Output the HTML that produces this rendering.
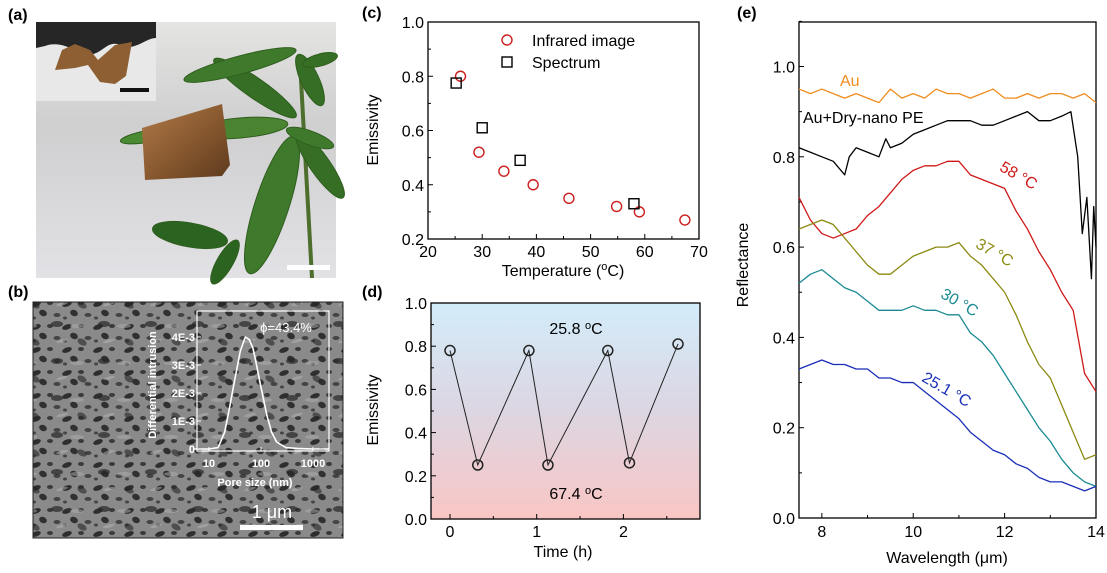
<!DOCTYPE html>
<html><head><meta charset="utf-8"><style>
html,body{margin:0;padding:0;background:#fff;}
svg{display:block;font-family:"Liberation Sans",Arial,sans-serif;}
</style></head><body>
<svg id="fig" width="1107" height="573" viewBox="0 0 1107 573" xmlns="http://www.w3.org/2000/svg">
<defs>
<linearGradient id="bgA" x1="0" y1="0" x2="0" y2="1"><stop offset="0" stop-color="#e4e4e2"/><stop offset="0.4" stop-color="#cfcfd0"/><stop offset="1" stop-color="#e2e2e6"/></linearGradient>
<linearGradient id="gD" x1="0" y1="0" x2="0" y2="1"><stop offset="0" stop-color="#d3ecfa"/><stop offset="0.5" stop-color="#dcd6e2"/><stop offset="1" stop-color="#f9c6c4"/></linearGradient>
<linearGradient id="brown" x1="0" y1="0" x2="1" y2="1"><stop offset="0" stop-color="#b07a48"/><stop offset="0.5" stop-color="#8a5a30"/><stop offset="1" stop-color="#5c3a1e"/></linearGradient>
<pattern id="sem" width="31" height="23" patternUnits="userSpaceOnUse">
<rect width="31" height="23" fill="#8a8a8a"/>
<ellipse cx="5" cy="5" rx="5" ry="2.5" fill="#2e2e2e" transform="rotate(-20 5 5)"/>
<ellipse cx="19" cy="4" rx="3" ry="2" fill="#3a3a3a"/>
<ellipse cx="12" cy="14" rx="4" ry="3" fill="#303030" transform="rotate(25 12 14)"/>
<ellipse cx="26" cy="16" rx="3.5" ry="2" fill="#444"/>
<ellipse cx="3" cy="19" rx="2" ry="1.5" fill="#444"/>
</pattern>
<pattern id="sem2" width="47" height="37" patternUnits="userSpaceOnUse">
<ellipse cx="10" cy="28" rx="6" ry="3" fill="#262626" opacity="0.7"/>
<ellipse cx="35" cy="9" rx="5" ry="3" fill="#262626" opacity="0.6" transform="rotate(30 35 9)"/>
<ellipse cx="30" cy="30" rx="7" ry="2" fill="#b0b0b0" opacity="0.5"/>
<ellipse cx="15" cy="8" rx="6" ry="1.5" fill="#b5b5b5" opacity="0.5" transform="rotate(-15 15 8)"/>
</pattern>
</defs>

<!-- panel a photo -->
<g>
<text x="8" y="20" font-size="16" font-weight="bold">(a)</text>
<rect x="36" y="22" width="300" height="256" fill="url(#bgA)"/>
<g stroke="#2f5e1e" stroke-width="1">
<path d="M300,62 L312,278" stroke="#4d6e2c" stroke-width="4" fill="none"/>
<ellipse cx="272" cy="205" rx="72" ry="17" transform="rotate(-72 272 205)" fill="#3f7a2c"/>
<ellipse cx="240" cy="128" rx="48" ry="10" transform="rotate(-5 240 128)" fill="#4a8430"/>
<ellipse cx="255" cy="88" rx="50" ry="10" transform="rotate(35 255 88)" fill="#356e24"/>
<ellipse cx="240" cy="65" rx="58" ry="9" transform="rotate(-15 240 65)" fill="#3f7a2c"/>
<ellipse cx="310" cy="80" rx="28" ry="9" transform="rotate(65 310 80)" fill="#356e24"/>
<ellipse cx="320" cy="165" rx="40" ry="10" transform="rotate(55 320 165)" fill="#356e24"/>
<ellipse cx="310" cy="138" rx="25" ry="7" transform="rotate(20 310 138)" fill="#3f7a2c"/>
<ellipse cx="190" cy="235" rx="38" ry="12" transform="rotate(10 190 235)" fill="#2a6420"/>
<ellipse cx="225" cy="262" rx="25" ry="8" transform="rotate(-60 225 262)" fill="#2a6420"/>
<ellipse cx="320" cy="60" rx="18" ry="6" transform="rotate(-15 320 60)" fill="#356e24"/>
<ellipse cx="150" cy="136" rx="30" ry="6" transform="rotate(-10 150 136)" fill="#4a8a32"/>
</g>
<polygon points="142,128 222,104 230,165 222,176 145,180" fill="url(#brown)"/>
<rect x="36" y="22" width="120" height="79" fill="#e8e8e8"/>
<path d="M36,22 H156 V38 C145,38 135,52 120,45 C105,38 100,62 80,52 C65,45 55,42 45,46 L36,48 Z" fill="#262626"/>
<polygon points="62,50 75,44 90,50 98,60 115,45 132,42 126,76 115,84 100,82 88,65 75,68 55,70" fill="#8e5f33"/>
<rect x="120" y="88" width="29" height="4" fill="#111"/>
<rect x="287" y="265" width="43" height="5" fill="#fff"/>
</g>

<!-- panel b SEM -->
<g>
<text x="8" y="297" font-size="16" font-weight="bold">(b)</text>
<rect x="33" y="302" width="310" height="236" fill="url(#sem)"/>
<rect x="33" y="302" width="310" height="236" fill="url(#sem2)"/>
<rect x="33" y="302" width="310" height="236" fill="none" stroke="#222" stroke-width="1"/>
<g>
<rect x="197" y="311" width="132" height="140" fill="none" stroke="#fff" stroke-width="1.2"/>
<g id="insetB"></g>
<text x="286" y="332" fill="#fff" font-size="13" text-anchor="middle">ϕ=43.4%</text>
<text x="255" y="486" fill="#fff" font-size="11" font-weight="bold" text-anchor="middle">Pore size (nm)</text>
<text transform="translate(156,385) rotate(-90)" fill="#fff" font-size="11" font-weight="bold" text-anchor="middle">Differential intrusion</text>
</g>
<text x="272" y="518" fill="#fff" font-size="18" text-anchor="middle">1 μm</text>
<rect x="240" y="525" width="63" height="5" fill="#fff"/>
</g>

<!-- panel c -->
<g id="pc">
<text x="362" y="18" font-size="16" font-weight="bold">(c)</text>
<rect x="428" y="22" width="271" height="217" fill="none" stroke="#000" stroke-width="1.3"/>
<text transform="translate(378,130) rotate(-90)" font-size="16" text-anchor="middle">Emissivity</text>
<text x="563" y="276" font-size="16" text-anchor="middle">Temperature (<tspan font-size="11" dy="-6">o</tspan><tspan dy="6">C)</tspan></text>
<circle cx="507" cy="40" r="5" fill="none" stroke="#cc1f1f" stroke-width="1.4"/>
<text x="532" y="46" font-size="16">Infrared image</text>
<rect x="502" y="57" width="10" height="10" fill="none" stroke="#000" stroke-width="1.4"/>
<text x="532" y="68" font-size="16">Spectrum</text>
</g>

<!-- panel d -->
<g id="pd">
<text x="362" y="297" font-size="16" font-weight="bold">(d)</text>
<rect x="431" y="303" width="269" height="216" fill="url(#gD)" stroke="#000" stroke-width="1.3"/>
<text transform="translate(378,410) rotate(-90)" font-size="16" text-anchor="middle">Emissivity</text>
<text x="563" y="557" font-size="16" text-anchor="middle">Time (h)</text>
<text x="576" y="334" font-size="16" text-anchor="middle">25.8 <tspan font-size="11" dy="-5">o</tspan><tspan dy="5">C</tspan></text>
<text x="576" y="499" font-size="16" text-anchor="middle">67.4 <tspan font-size="11" dy="-5">o</tspan><tspan dy="5">C</tspan></text>
</g>

<!-- panel e -->
<g id="pe">
<text x="737" y="18" font-size="16" font-weight="bold">(e)</text>
<rect x="799" y="22" width="297" height="496" fill="none" stroke="#000" stroke-width="1.3"/>
<text transform="translate(748,265) rotate(-90)" font-size="16" text-anchor="middle">Reflectance</text>
<text x="947" y="563" font-size="16" text-anchor="middle">Wavelength (μm)</text>
<text x="840" y="86" font-size="16" fill="#f08c1e">Au</text>
<text x="803" y="123" font-size="16" fill="#000">Au+Dry-nano PE</text>
<text transform="translate(1016,180) rotate(30)" font-size="16" fill="#d01818" text-anchor="middle">58 °C</text>
<text transform="translate(992,257) rotate(30)" font-size="16" fill="#8a8a12" text-anchor="middle">37 °C</text>
<text transform="translate(957,307) rotate(30)" font-size="16" fill="#1a8a92" text-anchor="middle">30 °C</text>
<text transform="translate(944,394) rotate(30)" font-size="16" fill="#1a2fb8" text-anchor="middle">25.1 °C</text>
</g>
</svg>
<script>
// ---- panel c data ----
const cIrTemp = [26, 29.4, 34, 39.4, 46, 54.8, 59, 67.4];
const cIrEmis = [0.80, 0.52, 0.45, 0.40, 0.35, 0.32, 0.30, 0.27];
const cSpTemp = [25.2, 30, 37, 58];
const cSpEmis = [0.775, 0.61, 0.49, 0.33];
const cXTicks = [20, 30, 40, 50, 60, 70];
const cYTicks = [0.2, 0.4, 0.6, 0.8, 1.0];
// ---- panel d data ----
const dTime = [0, 0.32, 0.91, 1.13, 1.82, 2.07, 2.63];
const dEmis = [0.78, 0.25, 0.78, 0.25, 0.78, 0.26, 0.81];
const dXTicks = [0, 1, 2];
const dYTicks = [0.0, 0.2, 0.4, 0.6, 0.8, 1.0];
// ---- panel e data ----
const eWave = [7.5,7.75,8,8.25,8.5,8.75,9,9.25,9.5,9.75,10,10.25,10.5,10.75,11,11.25,11.5,11.75,12,12.25,12.5,12.75,13,13.25,13.5,13.75,14];
const eAu =   [0.95,0.94,0.95,0.94,0.93,0.94,0.93,0.92,0.95,0.93,0.94,0.93,0.95,0.94,0.94,0.93,0.94,0.95,0.93,0.93,0.94,0.93,0.94,0.94,0.93,0.94,0.92];
const eDryWave = [7.5,7.75,8,8.25,8.5,8.6,8.75,9,9.25,9.4,9.5,9.75,10,10.25,10.5,10.75,11,11.25,11.5,11.75,12,12.25,12.5,12.75,13,13.25,13.45,13.6,13.7,13.8,13.9,13.95,14];
const eDry = [0.82,0.81,0.80,0.79,0.76,0.80,0.82,0.81,0.80,0.84,0.82,0.83,0.85,0.86,0.87,0.88,0.88,0.88,0.87,0.87,0.88,0.89,0.90,0.88,0.88,0.89,0.90,0.80,0.63,0.71,0.53,0.69,0.60];
const e58 = [0.71,0.66,0.63,0.62,0.63,0.64,0.67,0.69,0.72,0.75,0.77,0.78,0.78,0.79,0.79,0.76,0.75,0.74,0.73,0.68,0.64,0.59,0.55,0.50,0.46,0.32,0.28];
const e37 = [0.64,0.65,0.66,0.65,0.62,0.59,0.56,0.54,0.54,0.56,0.58,0.59,0.60,0.60,0.61,0.58,0.56,0.53,0.50,0.45,0.39,0.34,0.31,0.25,0.19,0.13,0.14];
const e30 = [0.52,0.54,0.55,0.53,0.51,0.50,0.48,0.46,0.46,0.46,0.47,0.46,0.46,0.45,0.45,0.41,0.39,0.36,0.32,0.28,0.24,0.20,0.17,0.13,0.10,0.08,0.07];
const e25 = [0.33,0.34,0.35,0.34,0.34,0.33,0.33,0.31,0.31,0.30,0.30,0.28,0.26,0.24,0.22,0.19,0.17,0.15,0.14,0.12,0.11,0.09,0.08,0.08,0.07,0.06,0.07];
const eXTicks = [8, 10, 12, 14];
const eYTicks = [0.0, 0.2, 0.4, 0.6, 0.8, 1.0];
// ---- panel b inset data ----
const bPore = [5,10,15,20,25,30,40,50,60,70,80,100,130,160,200,300,500,1000,2000];
const bIntr = [0,0,0.05,0.6,1.5,2.3,3.5,4.0,3.9,3.6,3.1,2.2,1.2,0.6,0.25,0.05,0.02,0,0];
const bYTicks = ['0','1E-3','2E-3','3E-3','4E-3'];
const bXTicks = [10, 100, 1000];

const NS = 'http://www.w3.org/2000/svg';
function mk(parent, tag, attrs) {
  const el = document.createElementNS(NS, tag);
  for (const k in attrs) el.setAttribute(k, attrs[k]);
  parent.appendChild(el);
  return el;
}
function lin(d0, d1, r0, r1) { return v => r0 + (v - d0) * (r1 - r0) / (d1 - d0); }

// panel c
const pc = document.getElementById('pc');
const cx = lin(20, 70, 428, 699), cy = lin(0.2, 1.0, 239, 22);
cXTicks.forEach(t => {
  const l = mk(pc, 'line', {x1: cx(t), x2: cx(t), y1: 239, y2: 234, stroke: '#000'});
  
  
  if (t < 70) mk(pc, 'line', {x1: cx(t + 5), x2: cx(t + 5), y1: 239, y2: 236, stroke: '#000'});
  const tx = mk(pc, 'text', {x: cx(t), y: 257, 'font-size': 16, 'text-anchor': 'middle'});
  tx.textContent = t;
  
  
});
cYTicks.forEach(t => {
  mk(pc, 'line', {x1: 428, x2: 433, y1: cy(t), y2: cy(t), stroke: '#000'});
  if (t < 1.0) mk(pc, 'line', {x1: 428, x2: 431, y1: cy(t + 0.1), y2: cy(t + 0.1), stroke: '#000'});
  const tx = mk(pc, 'text', {x: 424, y: cy(t) + 6, 'font-size': 16, 'text-anchor': 'end'});
  tx.textContent = t.toFixed(1);
  
  
});
cIrTemp.forEach((t, i) => {
  const c = mk(pc, 'circle', {cx: cx(t), cy: cy(cIrEmis[i]), r: 5, fill: 'none', stroke: '#cc1f1f', 'stroke-width': 1.4});
  
  
});
cSpTemp.forEach((t, i) => {
  const r = mk(pc, 'rect', {x: cx(t) - 5, y: cy(cSpEmis[i]) - 5, width: 10, height: 10, fill: 'none', stroke: '#000', 'stroke-width': 1.4});
  
  
});

// panel d
const pd = document.getElementById('pd');
const dx = lin(0, 1, 450, 536.7), dy = lin(0, 1, 519, 303);
dXTicks.forEach(t => {
  mk(pd, 'line', {x1: dx(t), x2: dx(t), y1: 519, y2: 514, stroke: '#000'});
  mk(pd, 'line', {x1: dx(t + 0.5), x2: dx(t + 0.5), y1: 519, y2: 516, stroke: '#000'});
  const tx = mk(pd, 'text', {x: dx(t), y: 537, 'font-size': 16, 'text-anchor': 'middle'});
  tx.textContent = t;
  
  
});
dYTicks.forEach(t => {
  mk(pd, 'line', {x1: 431, x2: 436, y1: dy(t), y2: dy(t), stroke: '#000'});
  if (t < 1.0) mk(pd, 'line', {x1: 431, x2: 434, y1: dy(t + 0.1), y2: dy(t + 0.1), stroke: '#000'});
  const tx = mk(pd, 'text', {x: 427, y: dy(t) + 6, 'font-size': 16, 'text-anchor': 'end'});
  tx.textContent = t.toFixed(1);
  
  
});
const dl = mk(pd, 'polyline', {points: dTime.map((t, i) => dx(t) + ',' + dy(dEmis[i])).join(' '), fill: 'none', stroke: '#222', 'stroke-width': 1});


dTime.forEach((t, i) => {
  const c = mk(pd, 'circle', {cx: dx(t), cy: dy(dEmis[i]), r: 5, fill: 'none', stroke: '#222', 'stroke-width': 1.5});
  
  
});

// panel e
const pe = document.getElementById('pe');
const ex = lin(7.5, 14, 799, 1096), ey = lin(0, 1, 518, 66.5);
eXTicks.forEach(t => {
  mk(pe, 'line', {x1: ex(t), x2: ex(t), y1: 518, y2: 513, stroke: '#000'});
  if (t < 14) mk(pe, 'line', {x1: ex(t + 1), x2: ex(t + 1), y1: 518, y2: 515, stroke: '#000'});
  const tx = mk(pe, 'text', {x: ex(t), y: 537, 'font-size': 16, 'text-anchor': 'middle'});
  tx.textContent = t;
  
  
});
eYTicks.forEach(t => {
  mk(pe, 'line', {x1: 799, x2: 804, y1: ey(t), y2: ey(t), stroke: '#000'});
  mk(pe, 'line', {x1: 799, x2: 802, y1: ey(t + 0.1), y2: ey(t + 0.1), stroke: '#000'});
  const tx = mk(pe, 'text', {x: 795, y: ey(t) + 6, 'font-size': 16, 'text-anchor': 'end'});
  tx.textContent = t.toFixed(1);
  
  
});
const eSeries = [
  ['au-curve', eWave, eAu, '#f08c1e'],
  ['au-dry-nano-pe-curve', eDryWave, eDry, '#000'],
  ['curve-58C', eWave, e58, '#d01818'],
  ['curve-37C', eWave, e37, '#8a8a12'],
  ['curve-30C', eWave, e30, '#1a8a92'],
  ['curve-25-1C', eWave, e25, '#1a2fb8']
];
eSeries.forEach(s => {
  const p = mk(pe, 'polyline', {points: s[1].map((w, i) => ex(w) + ',' + ey(s[2][i])).join(' '), fill: 'none', stroke: s[3], 'stroke-width': 1.3, 'stroke-linejoin': 'round'});
  
  
});

// panel b inset
const ib = document.getElementById('insetB');
const bx = v => 209 + (Math.log10(v) - 1) * 52, by = lin(0, 4, 449, 337);
bYTicks.forEach((t, i) => {
  mk(ib, 'line', {x1: 197, x2: 201, y1: by(i), y2: by(i), stroke: '#fff'});
  const tx = mk(ib, 'text', {x: 195, y: by(i) + 4, 'font-size': 11, 'font-weight': 'bold', fill: '#fff', 'text-anchor': 'end'});
  tx.textContent = t;
  
  
});
bXTicks.forEach(t => {
  mk(ib, 'line', {x1: bx(t), x2: bx(t), y1: 451, y2: 447, stroke: '#fff'});
  const tx = mk(ib, 'text', {x: bx(t), y: 467, 'font-size': 11, 'font-weight': 'bold', fill: '#fff', 'text-anchor': 'middle'});
  tx.textContent = t;
  
  
});
const bp = mk(ib, 'polyline', {points: bPore.map((p, i) => bx(p) + ',' + by(bIntr[i])).join(' '), fill: 'none', stroke: '#fff', 'stroke-width': 1.6, 'stroke-linejoin': 'round'});


</script>
</body></html>
